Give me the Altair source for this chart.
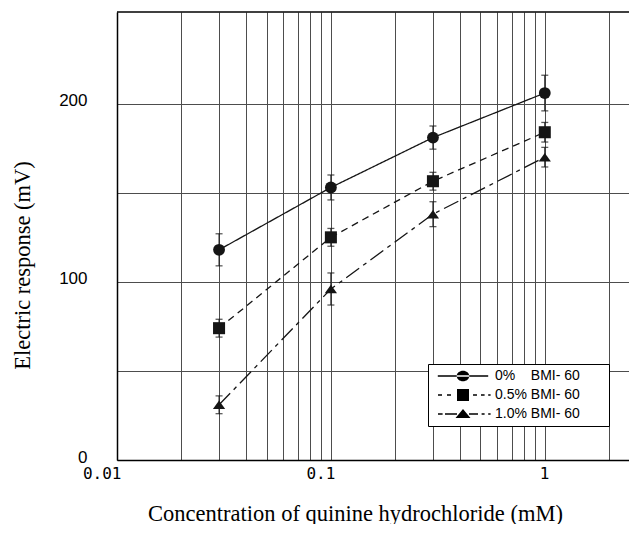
import altair as alt
import pandas as pd

# ---------------- data ----------------
conc = [0.03, 0.1, 0.3, 1.0]  # mM

NB = "\u00a0"
series_names = ["0%" + NB * 4 + "BMI- 60", "0.5% BMI- 60", "1.0% BMI- 60"]

resp_0 = [118, 153, 181, 206]
err_0 = [9, 7, 6.5, 10]
resp_05 = [74, 125, 156.5, 184]
err_05 = [5, 5, 5, 5.5]
resp_10 = [31, 96, 138, 170]
err_10 = [5, 9, 7, 5.5]

x_grid_values = [0.01, 0.02, 0.03, 0.04, 0.05, 0.06, 0.07, 0.08, 0.09,
                 0.1, 0.2, 0.3, 0.4, 0.5, 0.6, 0.7, 0.8, 0.9, 1, 2]
x_tick_values = [0.01, 0.1, 1]
x_tick_labels = ["0.01", "0.1", "1"]
y_grid_values = [0, 50, 100, 150, 200]
y_tick_values = [0, 100, 200]

# ---------------- styles ----------------
W, H = 512, 448
X_MAX = 2.476
dash_plot = [[1, 0], [7, 5], [16, 5, 4, 5]]
shapes_plot = ["circle", "square", "M0,-0.7L1,0.7L-1,0.7Z"]
sizes_plot = [140, 150, 196]


def seg(x0, x1, t=0.11):
    return f"M{x0},{-t}H{x1}V{t}H{x0}Z"


EXT = "M23.5,0"  # widens the legend frame to the right
leg_circle = (seg(-4.2, 4.2)
              + "M-1.05,0A1.05,0.88,0,1,0,1.05,0A1.05,0.88,0,1,0,-1.05,0Z" + EXT)
leg_square = (seg(-4.17, -3.5) + seg(-2.67, -2.0) + "M-1,-1H1V1H-1Z"
              + seg(1.67, 2.33) + seg(3.0, 3.6) + seg(4.2, 4.6) + EXT)
leg_triangle = (seg(-4.17, -3.4) + seg(-3.0, -1.0) + "M0,-0.85L1.25,0.65H-1.25Z"
                + seg(1.0, 2.5) + seg(3.1, 3.6) + seg(4.2, 4.6) + EXT)
shapes_legend = [leg_circle, leg_square, leg_triangle]

ink = "#151515"
grid_col = "#4d4d4d"

rows = []
for name, vals, errs in zip(series_names, [resp_0, resp_05, resp_10], [err_0, err_05, err_10]):
    for c, v, e in zip(conc, vals, errs):
        rows.append({"conc": c, "resp": v, "lo": v - e, "hi": v + e, "series": name})
df = pd.DataFrame(rows)

x_label_expr = " : ".join(
    [f"datum.value == {v} ? '{t}'" for v, t in zip(x_tick_values, x_tick_labels)]
) + " : ''"
y_label_expr = " || ".join([f"datum.value == {v}" for v in y_tick_values]) + " ? datum.label : ''"

x_enc = alt.X(
    "conc:Q",
    scale=alt.Scale(type="log", domain=[0.01, X_MAX], nice=False),
    axis=alt.Axis(
        values=x_grid_values, labelExpr=x_label_expr, ticks=False, grid=True,
        gridColor=grid_col, gridWidth=1, gridOpacity=1,
        domainColor="black", domainWidth=1.5,
        labelFont="DejaVu Sans Mono", labelFontSize=16, labelColor="black",
        labelAlign="right", labelOffset=4, labelPadding=5,
        labelFlush=False, labelOverlap=False,
        title="Concentration of quinine hydrochloride (mM)",
        titleFont="Liberation Serif", titleFontSize=22.5, titleFontWeight="normal",
        titleColor="black", titleX=238, titleY=60, titleAlign="center",
        titleBaseline="alphabetic",
    ),
)
y_enc = alt.Y(
    "resp:Q",
    scale=alt.Scale(domain=[0, 251.5], nice=False, zero=True),
    axis=alt.Axis(
        values=y_grid_values, labelExpr=y_label_expr, ticks=False, grid=True,
        gridColor=grid_col, gridWidth=1, gridOpacity=1,
        domainColor="black", domainWidth=1.5,
        labelFont="Arial", labelFontSize=17, labelColor="black",
        labelPadding=30, labelOffset=-3, labelFlush=False, labelOverlap=False,
        title="Electric response (mV)",
        titleFont="Liberation Serif", titleFontSize=22.5, titleFontWeight="normal",
        titleColor="black", titleX=-95, titleY=253, titleAlign="center",
        titleBaseline="middle", titleAngle=270,
    ),
)

base = alt.Chart(df)

lines = base.mark_line(color=ink, strokeWidth=1.3).encode(
    x=x_enc, y=y_enc,
    strokeDash=alt.StrokeDash("series:N", scale=alt.Scale(domain=series_names, range=dash_plot), legend=None),
    detail="series:N",
)

err_rules = base.mark_rule(color=ink, strokeWidth=1).encode(
    x="conc:Q", y="lo:Q", y2="hi:Q",
)
cap_lo = base.mark_tick(color=ink, orient="horizontal", size=7, thickness=1.3).encode(x="conc:Q", y="lo:Q")
cap_hi = base.mark_tick(color=ink, orient="horizontal", size=7, thickness=1.3).encode(x="conc:Q", y="hi:Q")

points = base.mark_point(filled=True, color=ink, opacity=1).encode(
    x="conc:Q", y="resp:Q",
    shape=alt.Shape("series:N", scale=alt.Scale(domain=series_names, range=shapes_plot), legend=None),
    size=alt.Size("series:N", scale=alt.Scale(domain=series_names, range=sizes_plot), legend=None),
)

leg = alt.Legend(
    title=None, orient="none", legendX=311, legendY=352, padding=5,
    symbolOffset=23, labelOffset=25, rowPadding=5,
    labelFont="Arial", labelFontSize=14, labelColor="black",
    strokeColor="black", fillColor="white",
    symbolSize=144, symbolStrokeWidth=0, symbolFillColor="black",
    symbolOpacity=1,
)
legend_layer = base.mark_point(filled=True, color="black", size=144).encode(
    x="conc:Q", y="resp:Q",
    shape=alt.Shape("series:N", scale=alt.Scale(domain=series_names, range=shapes_legend), legend=leg),
).transform_filter("false")

top_border = alt.Chart(pd.DataFrame({"k": [0]})).mark_rule(color="black", strokeWidth=1.5).encode(
    x=alt.value(0), x2=alt.value(W), y=alt.value(0)
)

chart = (
    alt.layer(lines, err_rules, cap_lo, cap_hi, points, legend_layer, top_border)
    .resolve_scale(shape="independent", strokeDash="independent")
    .properties(
        width=W, height=H,
        autosize=alt.AutoSizeParams(type="none"),
        padding={"left": 109, "top": 4, "right": 0, "bottom": 64},
        background="white",
    )
    .configure_view(stroke=None)
)

chart.save("out.html", embed_options={"renderer": "svg", "actions": False})
